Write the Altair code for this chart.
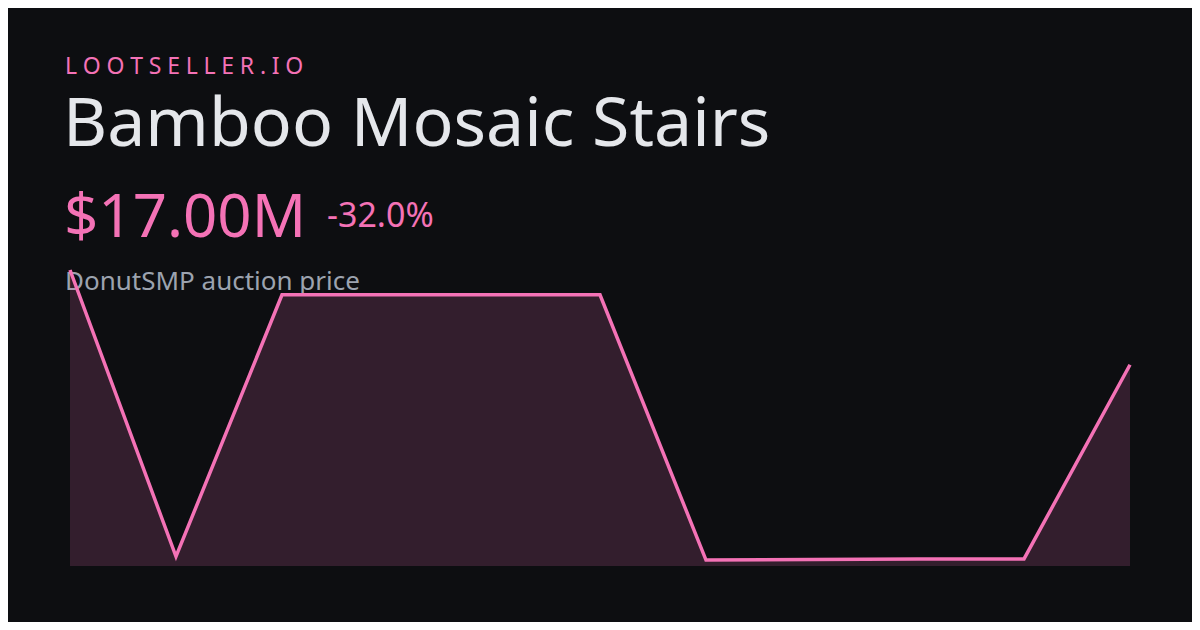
import altair as alt
import pandas as pd

# ---- data ----
steps = [0, 1, 2, 3, 4, 5, 6, 7, 8, 9, 10]
prices_m = [25.0, 0.8, 22.9, 22.9, 22.9, 22.9, 0.5, 0.55, 0.6, 0.6, 17.0]

brand = "LOOTSELLER.IO"
item_name = "Bamboo Mosaic Stairs"
price_label = "$17.00M"
change_label = "-32.0%"
subtitle = "DonutSMP auction price"

BG = "#0d0e11"
PINK = "#f472b6"
FONT = "Noto Sans"

df = pd.DataFrame({"step": steps, "price": prices_m})

x_enc = alt.X("step:Q", scale=alt.Scale(domain=[0, 10], nice=False), axis=None)
y_enc = alt.Y("price:Q", scale=alt.Scale(domain=[0, 25], nice=False, zero=True), axis=None)

base = alt.Chart(df)

area = base.mark_area(color=PINK, opacity=0.17).encode(x=x_enc, y=y_enc)
line = base.mark_line(color=PINK, strokeWidth=3.5, strokeJoin="miter").encode(x=x_enc, y=y_enc)


def label(txt, size, color, x, y, weight="normal"):
    return alt.Chart(pd.DataFrame({"t": [txt]})).mark_text(
        align="left", baseline="alphabetic", font=FONT, fontSize=size,
        color=color, fontWeight=weight
    ).encode(text="t:N", x=alt.value(x), y=alt.value(y))


spaced_brand = "\u2005".join(brand)

texts = [
    label(spaced_brand, 23, PINK, -5, -196),
    label(item_name, 68, "#e5e7eb", -7, -124),
    label(price_label, 60, PINK, -6, -33),
    label(change_label, 34, PINK, 257, -43),
    label(subtitle, 26, "#9ca3af", -5, 20),
]

chart = alt.layer(*texts, area, line).properties(
    width=1060,
    height=296,
    background=BG,
    padding={"left": 62, "top": 262, "right": 62, "bottom": 56},
    autosize=alt.AutoSizeParams(type="none"),
).configure_view(stroke=None)

chart.save("out.html", embed_options={"renderer": "svg", "actions": False})
